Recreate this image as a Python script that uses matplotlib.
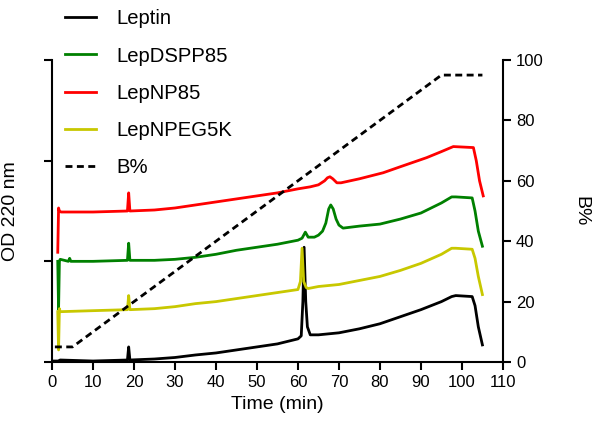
import matplotlib
matplotlib.use('Agg')
import matplotlib.pyplot as plt

plt.rcParams['font.family'] = ['Liberation Sans', 'DejaVu Sans']

# Chromatogramme (Zeit in min, OD 220 nm mit Offset)
leptin_t = [0.5, 1.5, 2.0, 10, 18.4, 18.7, 19.0, 25, 30, 35, 40, 45, 50, 55, 60, 60.8, 61.2, 61.5, 61.9, 62.3, 63, 65, 70, 75, 80, 85, 90, 95, 97.5, 98.5, 102.5, 103.2, 104, 105]
leptin_y = [0.01, 0.01, 0.02, 0.01, 0.02, 0.15, 0.02, 0.03, 0.045, 0.07, 0.09, 0.12, 0.15, 0.18, 0.23, 0.26, 0.6, 1.14, 0.6, 0.35, 0.27, 0.27, 0.29, 0.33, 0.38, 0.45, 0.52, 0.60, 0.65, 0.66, 0.65, 0.56, 0.35, 0.17]

dspp_t = [1.4, 1.6, 1.8, 2.0, 4, 4.3, 4.6, 10, 18.4, 18.7, 19.0, 25, 30, 35, 40, 45, 50, 55, 60, 61, 61.8, 62.5, 64, 65, 66, 66.8, 67.5, 68, 68.6, 69.3, 70, 71, 75, 80, 85, 90, 95, 97.5, 98.5, 102.5, 103.2, 104, 105]
dspp_y = [1.0, 0.52, 1.0, 1.02, 1.0, 1.03, 1.0, 1.0, 1.01, 1.18, 1.01, 1.01, 1.02, 1.04, 1.07, 1.11, 1.14, 1.17, 1.21, 1.23, 1.29, 1.24, 1.24, 1.26, 1.30, 1.38, 1.52, 1.56, 1.52, 1.42, 1.36, 1.33, 1.35, 1.37, 1.42, 1.48, 1.58, 1.64, 1.64, 1.63, 1.50, 1.30, 1.15]

np85_t = [1.4, 1.6, 1.8, 2.2, 10, 18.4, 18.7, 19.0, 25, 30, 35, 40, 45, 50, 55, 60, 63, 65, 66.5, 67.2, 67.8, 68.5, 69.5, 70.5, 75, 80.8, 85, 91.4, 95, 97.9, 102.8, 103.5, 104.3, 105.2]
np85_y = [1.09, 1.53, 1.50, 1.49, 1.49, 1.50, 1.68, 1.50, 1.51, 1.53, 1.56, 1.59, 1.62, 1.65, 1.68, 1.72, 1.74, 1.76, 1.80, 1.83, 1.84, 1.82, 1.78, 1.78, 1.82, 1.88, 1.94, 2.03, 2.09, 2.14, 2.13, 2.00, 1.80, 1.65]

peg_t = [1.4, 1.6, 1.8, 2.0, 10, 18.4, 18.7, 19.0, 25, 30, 35, 40, 45, 50, 55, 60, 60.6, 61.0, 61.4, 62, 62.5, 65, 70, 75, 80, 85, 90, 95, 97.5, 98.5, 102.5, 103.2, 104, 105]
peg_y = [0.5, 0.12, 0.53, 0.5, 0.51, 0.52, 0.66, 0.52, 0.53, 0.55, 0.58, 0.60, 0.63, 0.66, 0.69, 0.72, 0.80, 1.13, 0.80, 0.74, 0.73, 0.75, 0.77, 0.81, 0.85, 0.91, 0.98, 1.07, 1.13, 1.13, 1.12, 1.03, 0.85, 0.67]

# Gradient B%
grad_t = [0.7, 5, 95, 105]
grad_b = [5, 5, 95, 95]

fig = plt.figure(figsize=(6.02, 4.43), dpi=100)
ax1 = fig.add_axes([0.0864, 0.1828, 0.749, 0.6818])

lw = 2.0
ax1.plot(leptin_t, leptin_y, color='black', lw=lw, label='Leptin')
ax1.plot(dspp_t, dspp_y, color='#008000', lw=lw, label='LepDSPP85')
ax1.plot(np85_t, np85_y, color='#ff0000', lw=lw, label='LepNP85')
ax1.plot(peg_t, peg_y, color='#c8c800', lw=lw, label='LepNPEG5K')

ax1.set_xlim(0, 110)
ax1.set_ylim(0, 3)
ax1.set_xticks(range(0, 111, 10))
ax1.set_yticks([0, 1, 2, 3])
ax1.set_yticklabels([])
ax1.set_xlabel('Time (min)', fontsize=14)
ax1.set_ylabel('OD 220 nm', fontsize=14, labelpad=14)

# zweite Achse fuer B%
ax2 = ax1.twinx()
ax2.plot(grad_t, grad_b, color='black', lw=lw, dashes=(2.5, 1.6), label='B%')
ax2.set_ylim(0, 100)
ax2.set_yticks(range(0, 101, 20))
ax2.set_ylabel('B%', fontsize=14, rotation=270, labelpad=33)

for ax in (ax1, ax2):
    ax.spines['top'].set_visible(False)
    for s in ax.spines.values():
        s.set_linewidth(1.5)
    ax.tick_params(labelsize=12, length=6, width=1.5, direction='out')
ax2.spines['left'].set_visible(False)
ax2.spines['bottom'].set_visible(False)
ax1.spines['right'].set_visible(False)

lines, labels = ax1.get_legend_handles_labels()
lines2, labels2 = ax2.get_legend_handles_labels()
fig.legend(lines + lines2, labels + labels2, loc='upper left', bbox_to_anchor=(0.108, 0.979),
           frameon=False, fontsize=14.6, handlelength=1.55, handletextpad=1.0,
           labelspacing=0.9, borderpad=0, borderaxespad=0)

fig.savefig('out.png', dpi=100)
